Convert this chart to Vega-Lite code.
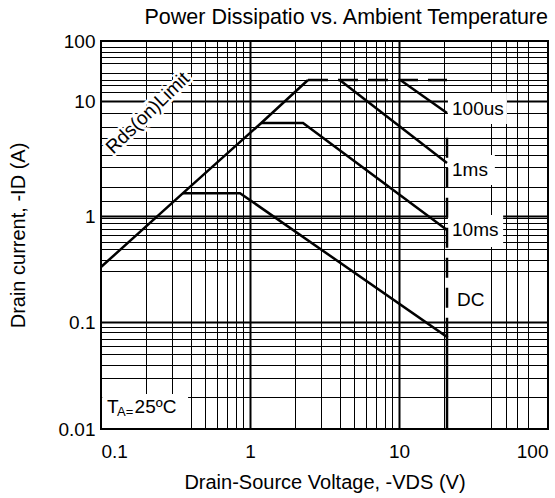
{
  "$schema": "https://vega.github.io/schema/vega-lite/v6.json",
  "width": 447,
  "height": 388,
  "autosize": {"type": "none"},
  "padding": {"left": 101, "top": 41, "right": 7, "bottom": 69},
  "background": "white",
  "config": {
    "font": "Liberation Sans",
    "view": {"stroke": "black", "strokeWidth": 2}
  },
  "title": {
    "text": "Power Dissipatio vs. Ambient Temperature",
    "anchor": "end",
    "fontSize": 21.5,
    "fontWeight": "normal",
    "color": "black",
    "offset": 4
  },
  "datasets": {
    "curves": [
      {"series": "Rds", "i": 0, "x": 0.1, "y": 0.33},
      {"series": "Rds", "i": 1, "x": 0.355, "y": 1.58},
      {"series": "Rds", "i": 2, "x": 1.19, "y": 6.44},
      {"series": "Rds", "i": 3, "x": 2.45, "y": 22.4},
      {"series": "DC", "i": 0, "x": 0.355, "y": 1.58},
      {"series": "DC", "i": 1, "x": 0.857, "y": 1.58},
      {"series": "DC", "i": 2, "x": 21, "y": 0.0724},
      {"series": "DC", "i": 3, "x": 21, "y": 0.01},
      {"series": "10ms", "i": 0, "x": 1.19, "y": 6.44},
      {"series": "10ms", "i": 1, "x": 2.27, "y": 6.44},
      {"series": "10ms", "i": 2, "x": 21, "y": 0.738},
      {"series": "1ms", "i": 0, "x": 4.0, "y": 22.4},
      {"series": "1ms", "i": 1, "x": 21, "y": 2.89},
      {"series": "100us", "i": 0, "x": 10.2, "y": 22.4},
      {"series": "100us", "i": 1, "x": 21, "y": 7.87}
    ],
    "dashed": [
      {"series": "Idm", "i": 0, "x": 2.45, "y": 22.4},
      {"series": "Idm", "i": 1, "x": 21, "y": 22.4},
      {"series": "Vds", "i": 0, "x": 21, "y": 4.8},
      {"series": "Vds", "i": 1, "x": 21, "y": 0.0724}
    ],
    "boxes": [
      {"x": 21.3, "x2": 53, "y": 6.31, "y2": 13.6},
      {"x": 21.3, "x2": 44, "y": 1.86, "y2": 3.39},
      {"x": 21.3, "x2": 50, "y": 0.51, "y2": 1.02},
      {"x": 0.102, "x2": 0.384, "y": 0.0102, "y2": 0.0212}
    ],
    "labels": [
      {"label": "100us", "x": 22.7, "y": 8.51},
      {"label": "1ms", "x": 22.7, "y": 2.51},
      {"label": "10ms", "x": 22.7, "y": 0.738},
      {"label": "DC", "x": 24.5, "y": 0.162},
      {"label": "T", "x": 0.1097, "y": 0.0161},
      {"label": "25ºC", "x": 0.168, "y": 0.0161}
    ],
    "small": [
      {"label": "A=", "x": 0.128, "y": 0.0145}
    ],
    "rds": [
      {"label": "Rds(on)Limit", "x": 0.206, "y": 7.87}
    ]
  },
  "encoding": {
    "x": {
      "field": "x",
      "type": "quantitative",
      "scale": {"type": "log", "domain": [0.1, 100], "nice": false},
      "axis": {
        "values": [0.1, 0.2, 0.3, 0.4, 0.5, 0.6, 0.7, 0.8, 0.9, 1, 2, 3, 4, 5, 6, 7, 8, 9, 10, 20, 41.4, 52.2, 61.9, 73.4, 100],
        "format": "~g",
        "labelExpr": "datum.value == 0.1 || datum.value == 1 || datum.value == 10 || datum.value == 100 ? datum.label : ''",
        "labelOverlap": false,
        "labelFlush": true,
        "labelFontSize": 19,
        "labelColor": "black",
        "labelPadding": 13,
        "ticks": false,
        "domain": false,
        "grid": true,
        "gridColor": "black",
        "gridOpacity": 1,
        "gridWidth": {"condition": {"test": "datum.value == 1 || datum.value == 10", "value": 2}, "value": 1},
        "title": "Drain-Source Voltage, -VDS (V)",
        "titleFontSize": 20,
        "titleFontWeight": "normal",
        "titleColor": "black",
        "titlePadding": 11
      }
    },
    "y": {
      "field": "y",
      "type": "quantitative",
      "scale": {"type": "log", "domain": [0.01, 0.1, 1, 10, 100], "range": [388, 281, 175, 60, 0], "nice": false},
      "axis": {
        "values": [0.01, 0.02, 0.03, 0.04, 0.05, 0.06, 0.07, 0.08, 0.09, 0.1, 0.303, 0.385, 0.488, 0.569, 0.662, 0.754, 0.859, 0.957, 1, 1.35, 1.79, 2.67, 3.39, 4.14, 4.77, 5.94, 7.87, 10, 14.1, 18.5, 22.4, 29, 43, 54, 65.6, 79, 100],
        "format": "~g",
        "labelExpr": "datum.value == 0.01 || datum.value == 0.1 || datum.value == 1 || datum.value == 10 || datum.value == 100 ? datum.label : ''",
        "labelOverlap": false,
        "labelFontSize": 19,
        "labelColor": "black",
        "labelPadding": 6,
        "ticks": false,
        "domain": false,
        "grid": true,
        "gridColor": "black",
        "gridOpacity": 1,
        "gridWidth": {"condition": {"test": "datum.value == 0.1 || datum.value == 1 || datum.value == 10", "value": 2}, "value": 1},
        "title": "Drain current, -ID (A)",
        "titleFontSize": 20,
        "titleFontWeight": "normal",
        "titleColor": "black",
        "titlePadding": 30
      }
    }
  },
  "layer": [
    {
      "data": {"name": "boxes"},
      "mark": {"type": "rect", "fill": "white", "stroke": null},
      "encoding": {
        "x2": {"field": "x2"},
        "y2": {"field": "y2"}
      }
    },
    {
      "data": {"name": "rds"},
      "mark": {"type": "text", "align": "center", "baseline": "middle", "fontSize": 19, "angle": 316, "color": "white", "stroke": "white", "strokeWidth": 5},
      "encoding": {"text": {"field": "label"}}
    },
    {
      "data": {"name": "curves"},
      "mark": {"type": "line", "color": "black", "strokeWidth": 2.5, "clip": true},
      "encoding": {
        "detail": {"field": "series"},
        "order": {"field": "i", "type": "quantitative"}
      }
    },
    {
      "data": {"name": "dashed"},
      "mark": {"type": "line", "color": "black", "strokeWidth": 2.5, "strokeDash": [20, 10], "clip": true},
      "encoding": {
        "detail": {"field": "series"},
        "order": {"field": "i", "type": "quantitative"}
      }
    },
    {
      "data": {"name": "labels"},
      "mark": {"type": "text", "align": "left", "baseline": "middle", "fontSize": 19, "color": "black"},
      "encoding": {"text": {"field": "label"}}
    },
    {
      "data": {"name": "small"},
      "mark": {"type": "text", "align": "left", "baseline": "middle", "fontSize": 13, "color": "black"},
      "encoding": {"text": {"field": "label"}}
    },
    {
      "data": {"name": "rds"},
      "mark": {"type": "text", "align": "center", "baseline": "middle", "fontSize": 19, "angle": 316, "color": "black"},
      "encoding": {"text": {"field": "label"}}
    }
  ]
}
